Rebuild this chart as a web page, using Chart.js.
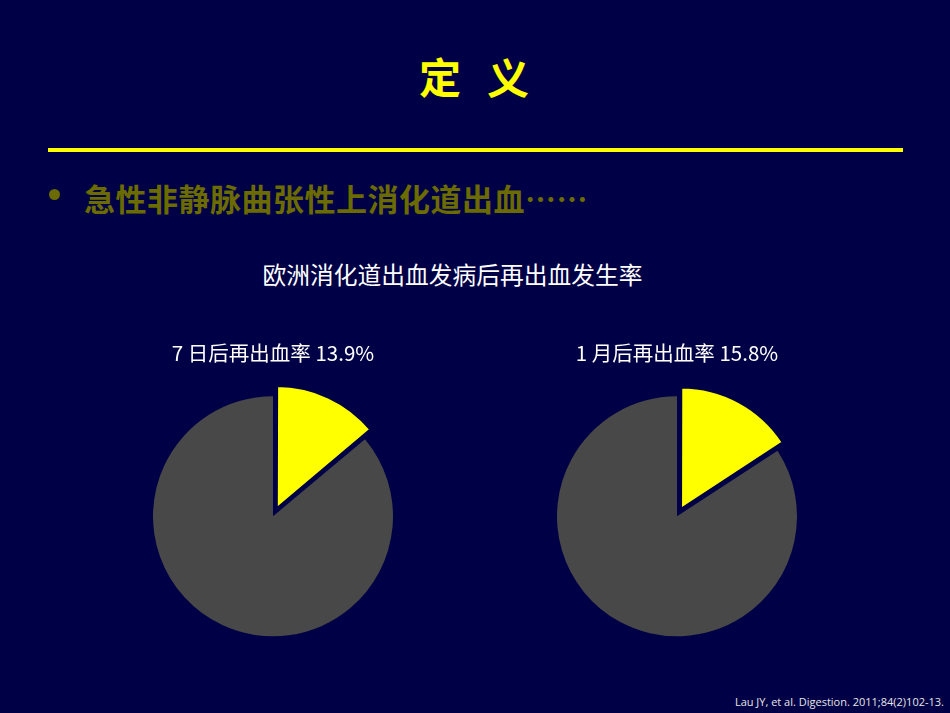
<!DOCTYPE html>
<html>
<head>
<meta charset="utf-8">
<script src="https://cdn.jsdelivr.net/npm/chart.js@4"></script>
<style>
  body { margin: 0; background: #000046; }
  #slide { position: relative; width: 950px; height: 713px; background: #000046; overflow: hidden;
           font-family: "Noto Sans CJK SC", "Noto Sans", sans-serif; }
  .abs { position: absolute; white-space: nowrap; }
  #head { left: 0; width: 948px; top: 48px; text-align: center; color: #ffff00; font-size: 42px; font-weight: bold; line-height: 56px; }
  #head span { margin-left: 26px; }
  #rule { left: 48px; top: 148px; width: 855px; height: 4px; background: #ffff00; }
  #dot { left: 49px; top: 189px; width: 11px; height: 11px; border-radius: 50%; background: #6b6b00; }
  #bullet { left: 84px; top: 176px; color: #6b6b00; font-size: 31px; font-weight: bold; line-height: 44px; letter-spacing: 0.5px; }
  #sub { left: 0; width: 905px; top: 257px; text-align: center; color: #ffffff; font-size: 23.75px; line-height: 34px; }
  #ref { right: 6px; top: 694px; color: #e6e6e6; font-size: 11px; font-family: "Open Sans", "Noto Sans", sans-serif; }
  .box { position: absolute; width: 280px; height: 326px; top: 331px; }
</style>
</head>
<body>
<div id="slide">
  <div id="head" class="abs">定<span>义</span></div>
  <div id="rule" class="abs"></div>
  <div id="dot" class="abs"></div>
  <div id="bullet" class="abs">急性非静脉曲张性上消化道出血……</div>
  <div id="sub" class="abs">欧洲消化道出血发病后再出血发生率</div>
  <div class="box" style="left:133px"><canvas id="pie1"></canvas></div>
  <div class="box" style="left:537px"><canvas id="pie2"></canvas></div>
  <div id="ref" class="abs">Lau JY, et al. Digestion. 2011;84(2)102-13.</div>
</div>
<script>
  // data
  var labels = ["再出血", "未再出血"];
  var titles = ["7 日后再出血率 13.9%", "1 月后再出血率 15.8%"];
  var day7 = [13.9, 86.1];
  var month1 = [15.8, 84.2];
  var colors = ["#ffff00", "#484848"];

  //chart.js shrinks arc offset (offset/4 plus a small fix), so values are bigger than the px shift
  function makePie(id, values, title, explode) {
    var ctx = document.getElementById(id);
    return new Chart(ctx, {
      type: "pie",
      data: {
        labels: labels,
        datasets: [{
          data: values,
          backgroundColor: colors,
          borderColor: ["#000046", "#484848"],
          borderWidth: [2, 0],
          offset: [explode, 0]
        }]
      },
      options: {
        responsive: true,
        maintainAspectRatio: false,
        animation: false,
        radius: 120,
        layout: { padding: 0 },
        plugins: {
          legend: { display: false },
          tooltip: { enabled: false },
          title: {
            display: true,
            text: title,
            color: "#ffffff",
            font: { size: 20.5, family: "'Noto Sans CJK SC', 'Noto Sans', sans-serif", weight: "normal" },
            padding: { top: 10, bottom: 10 }
          }
        }
      }
    });
  }

  makePie("pie1", day7, titles[0], 36);
  makePie("pie2", month1, titles[1], 34);
</script>
</body>
</html>
